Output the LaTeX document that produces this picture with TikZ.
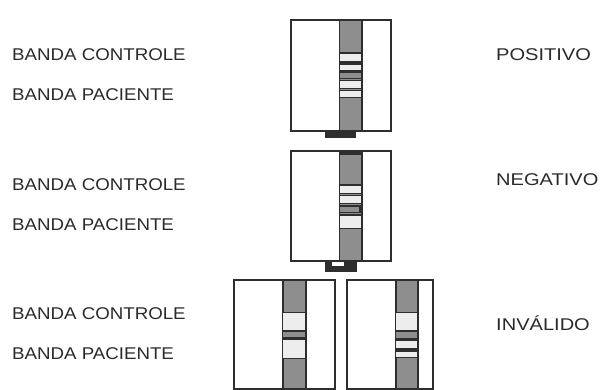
\documentclass[tikz,border=0pt]{standalone}
\usepackage{fontspec}
\setmainfont{Liberation Sans}
\newfontfamily\bandfont{Liberation Sans}[FakeStretch=1.1]
\newfontfamily\resultfont{Liberation Sans}[FakeStretch=1.18]
\definecolor{ink}{HTML}{2E2E2E}
\definecolor{stripgray}{HTML}{8E8E8E}
\definecolor{bandlight}{HTML}{EDEDED}
\definecolor{txt}{HTML}{2A2A2A}
\begin{document}
\begin{tikzpicture}[x=1pt,y=-1pt,
  cassette/.style={draw=ink,line width=2pt,fill=white},
  stripbox/.style={draw=ink,line width=1.8pt,fill=stripgray},
  lightband/.style={draw=ink,line width=1.2pt,fill=bandlight},
  grayband/.style={draw=ink,line width=1.2pt,fill=stripgray},
  tabbox/.style={fill=ink},
  sidetext/.style={anchor=base west,inner sep=0pt,text=txt,font=\bandfont\fontsize{17}{20}\selectfont},
  resulttext/.style={anchor=base west,inner sep=0pt,text=txt,font=\resultfont\fontsize{17}{20}\selectfont}]
\useasboundingbox (0,0) rectangle (602,390);

% side labels
\node[sidetext] (c1) at (12,61)  {BANDA CONTROLE};
\node[sidetext] (p1) at (12,101) {BANDA PACIENTE};
\node[sidetext] (c2) at (12,190) {BANDA CONTROLE};
\node[sidetext] (p2) at (12,230) {BANDA PACIENTE};
\node[sidetext] (c3) at (12,319) {BANDA CONTROLE};
\node[sidetext] (p3) at (12,359) {BANDA PACIENTE};

% results
\node[resulttext] (r1) at (496,60.7)  {POSITIVO};
\node[resulttext] (r2) at (496,185.5) {NEGATIVO};
\node[resulttext] (r3) at (496,330.7) {INVÁLIDO};

% positive cassette
\fill[tabbox] (325,130) rectangle (356,138);
\draw[cassette] (291,20) rectangle (391,131);
\draw[stripbox] (339.5,20) rectangle (362,131);
\draw[lightband] (339.5,53) rectangle (362,62);
\draw[lightband] (339.5,64) rectangle (362,70.5);
\draw[grayband]  (339.5,72) rectangle (362,78.5);
\draw[lightband] (339.5,80.5) rectangle (362,88.5);
\draw[lightband] (339.5,90.5) rectangle (362,97.5);

% negative cassette
\fill[tabbox] (325,260) rectangle (357,272);
\fill[white] (332,262.3) rectangle (344,265.7);
\draw[cassette] (291,151.5) rectangle (391,261);
\draw[stripbox] (339.5,151.5) rectangle (362,261);
\fill[ink] (339.5,151.5) rectangle (362,155);
\draw[lightband] (339.5,185) rectangle (362,193.5);
\draw[lightband] (339.5,195.5) rectangle (362,203.5);
\draw[grayband]  (339.5,206) rectangle (360,212.5);
\draw[lightband] (339.5,215) rectangle (362,228.5);

% invalid cassettes
\draw[cassette] (234,280) rectangle (335,389);
\draw[stripbox] (282.7,280) rectangle (306,389);
\draw[lightband] (282.7,312.7) rectangle (306,331);
\draw[grayband]  (282.7,331) rectangle (306,338);
\draw[lightband] (282.7,339) rectangle (306,358.3);

\draw[cassette] (346.7,280) rectangle (433,389);
\draw[stripbox] (395.7,280) rectangle (417.7,389);
\draw[lightband] (395.7,312.7) rectangle (417.7,331);
\draw[grayband]  (395.7,331) rectangle (417.7,339);
\draw[lightband] (395.7,340) rectangle (417.7,349);
\draw[lightband] (395.7,351) rectangle (417.7,357.3);
\end{tikzpicture}
\end{document}
